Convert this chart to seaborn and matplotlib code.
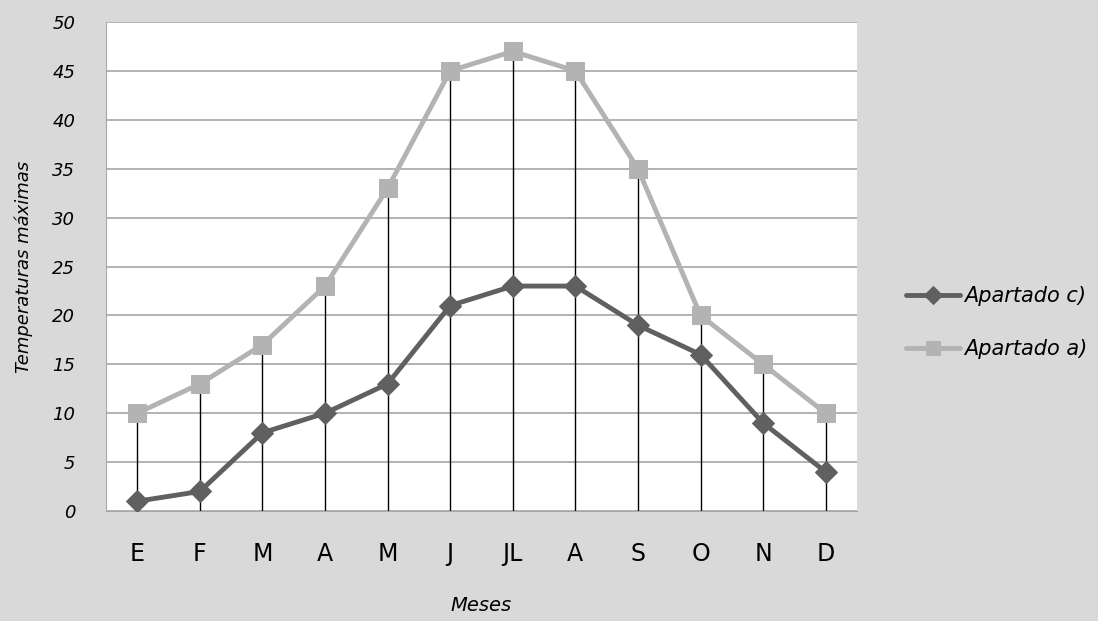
import matplotlib
matplotlib.use("Agg")
import matplotlib.pyplot as plt
import pandas as pd
import seaborn as sns

meses = ['E', 'F', 'M', 'A', 'M', 'J', 'JL', 'A', 'S', 'O', 'N', 'D']
apartado_c = [1, 2, 8, 10, 13, 21, 23, 23, 19, 16, 9, 4]
apartado_a = [10, 13, 17, 23, 33, 45, 47, 45, 35, 20, 15, 10]
yticks = list(range(0, 55, 5))

sns.set_style("white")
plt.rcParams['font.family'] = ['DejaVu Sans']
plt.rcParams['text.color'] = 'black'
plt.rcParams['axes.labelcolor'] = 'black'
plt.rcParams['xtick.color'] = 'black'
plt.rcParams['ytick.color'] = 'black'

fig = plt.figure(figsize=(10.98, 6.21), dpi=100, facecolor='#d9d9d9')
ax = fig.add_axes([0.0965, 0.1771, 0.684, 0.7875])
ax.set_facecolor('white')

pos = list(range(len(meses)))
df = pd.DataFrame({'pos': pos, 'c': apartado_c, 'a': apartado_a})

for y in yticks:
    ax.axhline(y, color='#a6a6a6', lw=1.2, zorder=1)

# vertical drop lines from the a) points to zero
ax.vlines(df.pos, 0, df.a, color='black', lw=1, zorder=2)

sns.lineplot(data=df, x='pos', y='c', ax=ax, color='#606060', lw=3.5,
             marker='D', markersize=11, markeredgecolor='#606060',
             label='Apartado c)', zorder=4)
sns.lineplot(data=df, x='pos', y='a', ax=ax, color='#b3b3b3', lw=3.5,
             marker='s', markersize=13, markeredgecolor='#b3b3b3',
             label='Apartado a)', zorder=3)

ax.set_xlim(-0.5, len(meses) - 0.5)
ax.set_ylim(0, 50)
ax.set_yticks(yticks)
ax.set_xticks(pos)
ax.set_xticklabels(meses, fontsize=17)
ax.set_yticklabels([str(v) for v in yticks], fontsize=13, fontstyle='italic')
ax.tick_params(axis='x', length=0, pad=22)
ax.tick_params(axis='y', length=0, pad=22)

for side in ['top', 'right']:
    ax.spines[side].set_visible(False)
ax.spines['left'].set_color('#a6a6a6')
ax.spines['bottom'].set_color('#a6a6a6')

ax.set_xlabel('Meses', fontsize=14, fontstyle='italic', labelpad=22)
ax.set_ylabel('Temperaturas máximas', fontsize=13, fontstyle='italic', labelpad=14)

ax.legend(loc='center left', bbox_to_anchor=(1.04, 0.385), frameon=False,
          handlelength=2.6, handletextpad=0.2, labelspacing=1.6,
          markerscale=0.8, prop={'style': 'italic', 'size': 15})

fig.savefig('out.png', dpi=100, facecolor=fig.get_facecolor())
